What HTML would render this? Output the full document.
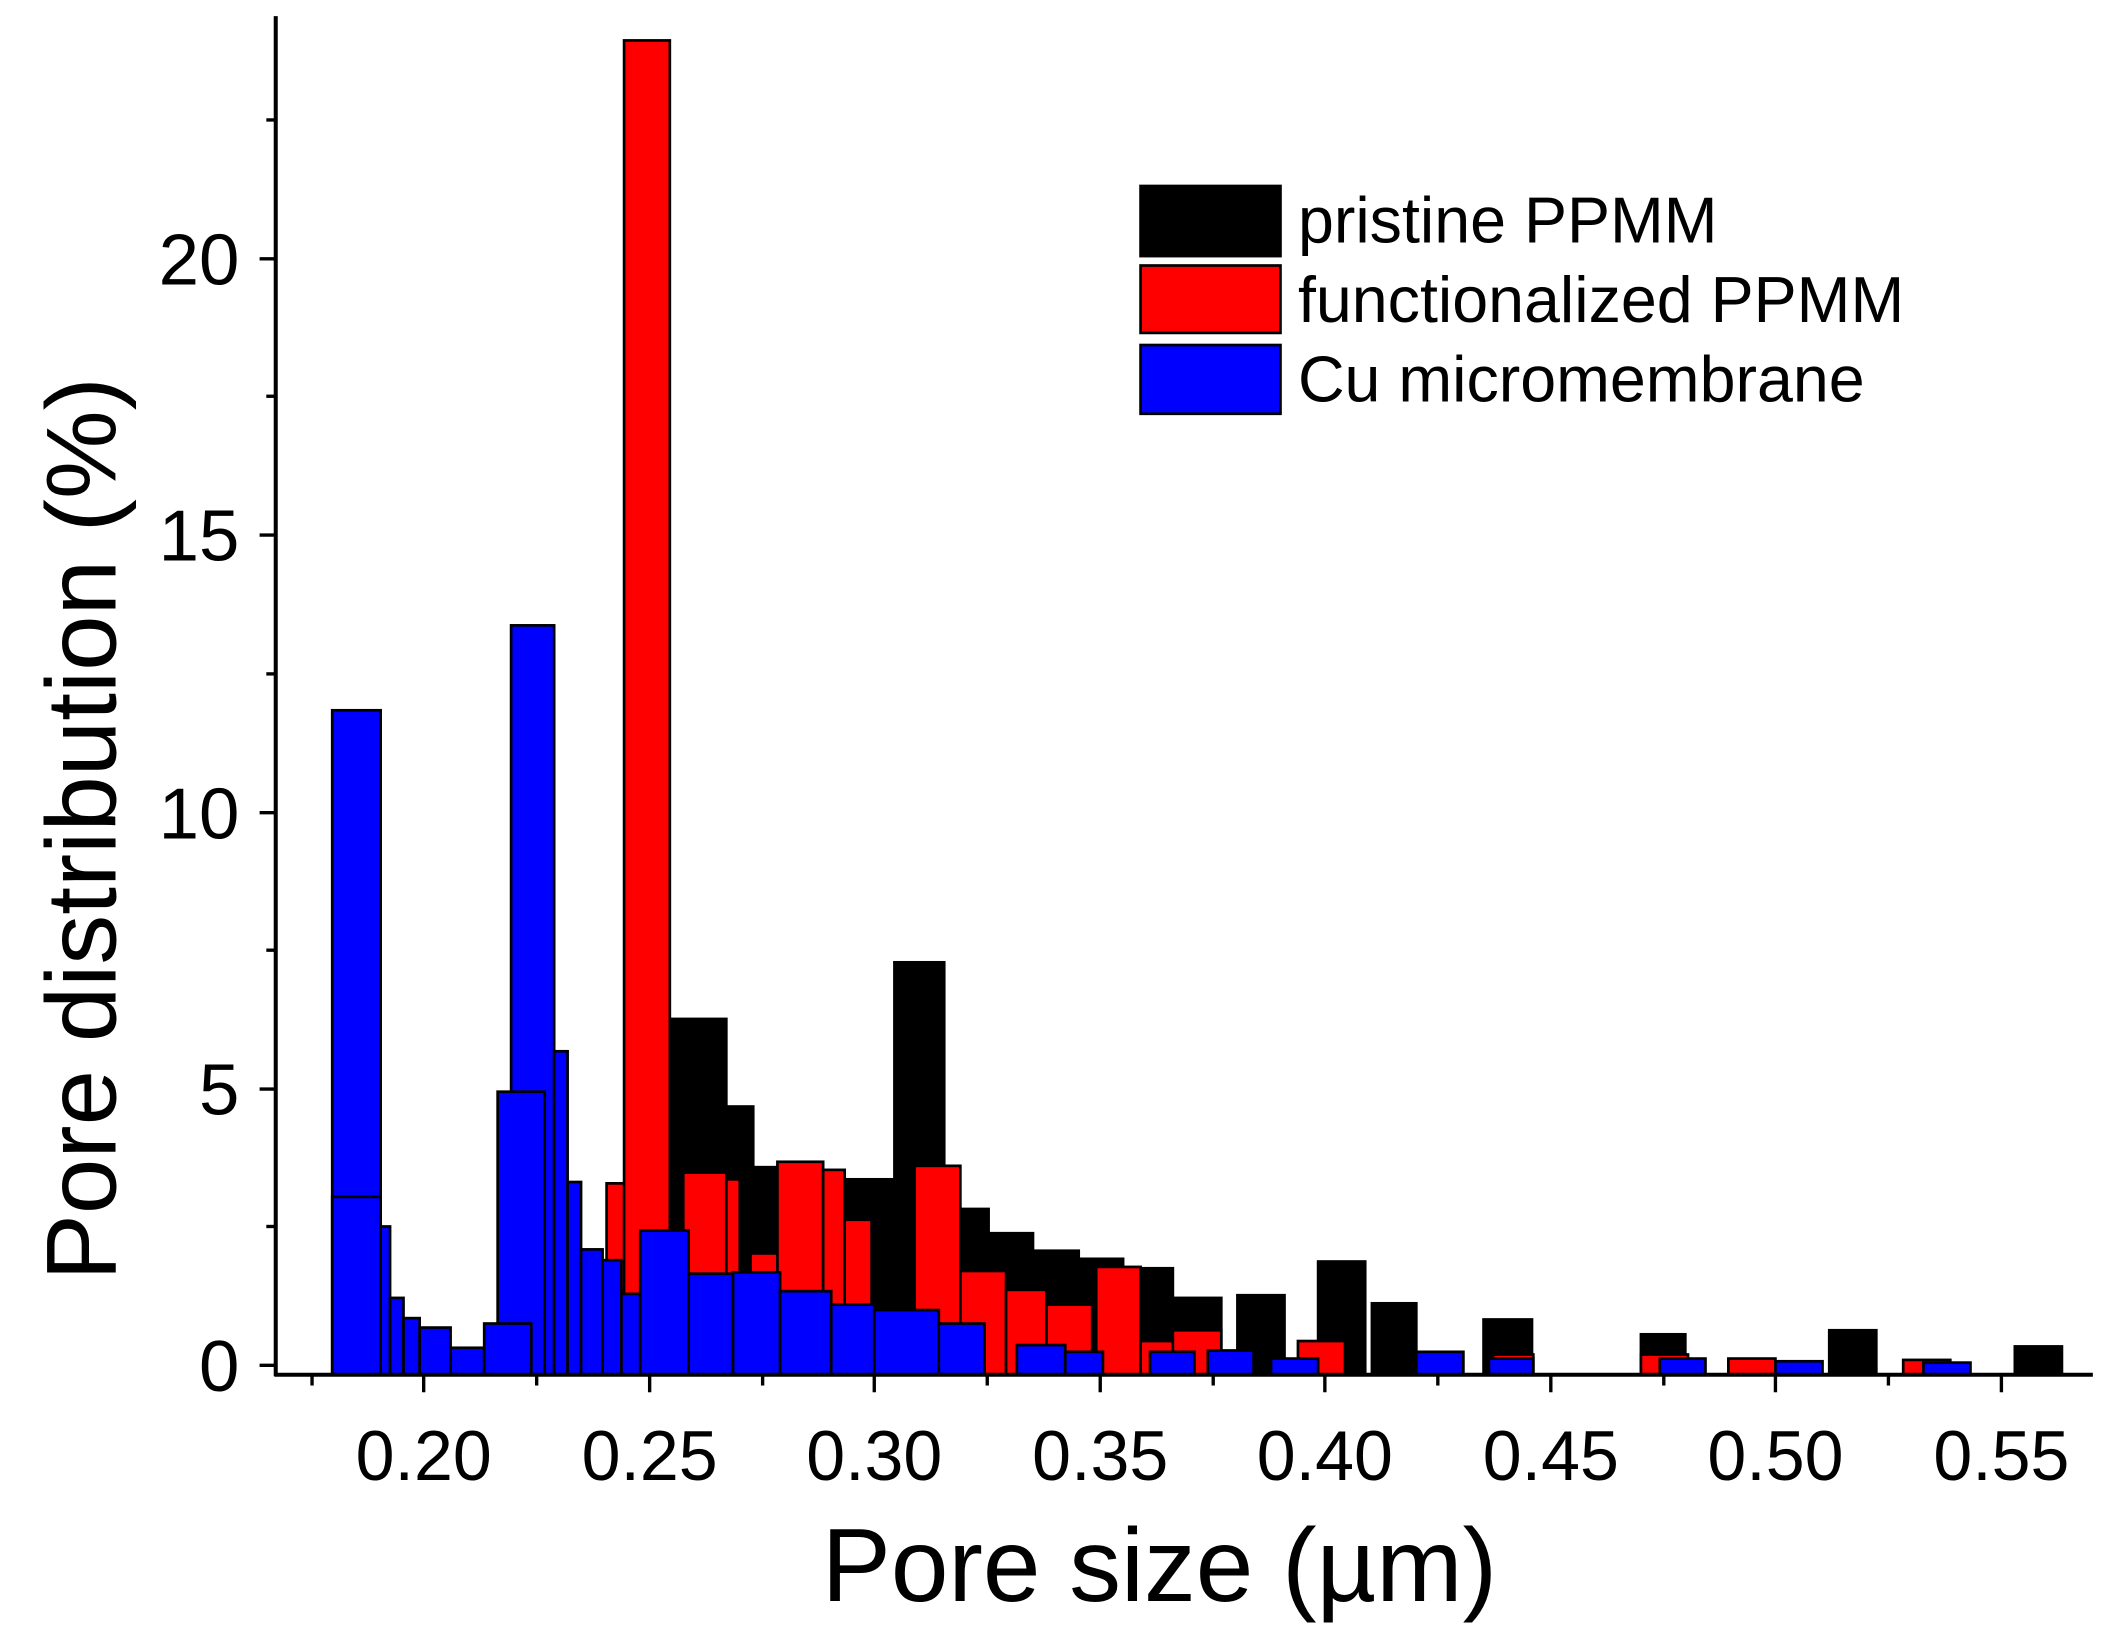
<!DOCTYPE html>
<html><head><style>html,body{margin:0;padding:0;background:#fff}svg{display:block}</style></head>
<body>
<svg width="2109" height="1647" viewBox="0 0 1568 1222" preserveAspectRatio="none" xmlns="http://www.w3.org/2000/svg" font-family="Liberation Sans, sans-serif">
<rect width="1568" height="1222" fill="#fff"/>
<g stroke="#000" stroke-width="2">
<g fill="#000">
<rect x="585" y="870" width="43" height="150"/>
<rect x="498" y="756" width="42" height="264"/>
<rect x="540" y="821" width="20" height="199"/>
<rect x="560" y="866" width="25" height="154"/>
<rect x="628" y="875" width="37" height="145"/>
<rect x="665" y="714" width="37" height="306"/>
<rect x="702" y="897" width="33" height="123"/>
<rect x="735" y="915" width="33" height="105"/>
<rect x="768" y="928" width="34" height="92"/>
<rect x="802" y="934" width="33" height="86"/>
<rect x="835" y="941" width="37" height="79"/>
<rect x="872" y="963" width="36" height="57"/>
<rect x="920" y="961" width="35" height="59"/>
<rect x="980" y="936" width="35" height="84"/>
<rect x="1020" y="967" width="33" height="53"/>
<rect x="1103" y="979" width="36" height="41"/>
<rect x="1220" y="990" width="33" height="30"/>
<rect x="1360" y="987" width="35" height="33"/>
<rect x="1498" y="999" width="35" height="21"/>
</g>
<g fill="#f00">
<rect x="451" y="878" width="34" height="142"/>
<rect x="464" y="30" width="34" height="990"/>
<rect x="508" y="870" width="32" height="150"/>
<rect x="540" y="875" width="10" height="145"/>
<rect x="558" y="930" width="20" height="90"/>
<rect x="578" y="862" width="34" height="158"/>
<rect x="612" y="868" width="16" height="152"/>
<rect x="628" y="905" width="20" height="115"/>
<rect x="680" y="865" width="34" height="155"/>
<rect x="714" y="943" width="34" height="77"/>
<rect x="748" y="957" width="30" height="63"/>
<rect x="778" y="968" width="34" height="52"/>
<rect x="815" y="940" width="33" height="80"/>
<rect x="848" y="995" width="24" height="25"/>
<rect x="872" y="987" width="36" height="33"/>
<rect x="965" y="995" width="35" height="25"/>
<rect x="1110" y="1005" width="30" height="15"/>
<rect x="1220" y="1005" width="35" height="15"/>
<rect x="1285" y="1008" width="35" height="12"/>
<rect x="1415" y="1009" width="35" height="11"/>
</g>
<g fill="#00f">
<rect x="247" y="527" width="36" height="493"/>
<rect x="247" y="888" width="36" height="132"/>
<rect x="283" y="910" width="7" height="110"/>
<rect x="290" y="963" width="10" height="57"/>
<rect x="300" y="978" width="12" height="42"/>
<rect x="312" y="985" width="23" height="35"/>
<rect x="335" y="1000" width="25" height="20"/>
<rect x="380" y="464" width="32" height="556"/>
<rect x="370" y="810" width="35" height="210"/>
<rect x="360" y="982" width="35" height="38"/>
<rect x="412" y="780" width="10" height="240"/>
<rect x="422" y="877" width="10" height="143"/>
<rect x="432" y="927" width="16" height="93"/>
<rect x="448" y="935" width="14" height="85"/>
<rect x="462" y="960" width="14" height="60"/>
<rect x="476" y="913" width="36" height="107"/>
<rect x="512" y="945" width="33" height="75"/>
<rect x="545" y="944" width="35" height="76"/>
<rect x="580" y="958" width="38" height="62"/>
<rect x="618" y="968" width="32" height="52"/>
<rect x="650" y="972" width="48" height="48"/>
<rect x="698" y="982" width="34" height="38"/>
<rect x="756" y="998" width="36" height="22"/>
<rect x="792" y="1003" width="28" height="17"/>
<rect x="855" y="1003" width="33" height="17"/>
<rect x="898" y="1002" width="34" height="18"/>
<rect x="945" y="1008" width="35" height="12"/>
<rect x="1053" y="1003" width="35" height="17"/>
<rect x="1107" y="1008" width="33" height="12"/>
<rect x="1234" y="1008" width="34" height="12"/>
<rect x="1320" y="1010" width="35" height="10"/>
<rect x="1430" y="1011" width="35" height="9"/>
</g>
<line x1="205" y1="12" x2="205" y2="1021" stroke-width="3"/>
<line x1="204" y1="1020" x2="1556" y2="1020" stroke-width="3"/>
<g stroke-width="2.5">
<line x1="193" y1="1013" x2="205" y2="1013"/><line x1="193" y1="808" x2="205" y2="808"/>
<line x1="193" y1="603" x2="205" y2="603"/><line x1="193" y1="397" x2="205" y2="397"/>
<line x1="193" y1="192" x2="205" y2="192"/>
<line x1="198" y1="910" x2="205" y2="910"/><line x1="198" y1="705" x2="205" y2="705"/>
<line x1="198" y1="500" x2="205" y2="500"/><line x1="198" y1="294" x2="205" y2="294"/>
<line x1="198" y1="89" x2="205" y2="89"/>
<line x1="315" y1="1020" x2="315" y2="1033"/><line x1="483" y1="1020" x2="483" y2="1033"/>
<line x1="650" y1="1020" x2="650" y2="1033"/><line x1="818" y1="1020" x2="818" y2="1033"/>
<line x1="985" y1="1020" x2="985" y2="1033"/><line x1="1153" y1="1020" x2="1153" y2="1033"/>
<line x1="1320" y1="1020" x2="1320" y2="1033"/><line x1="1488" y1="1020" x2="1488" y2="1033"/>
<line x1="232" y1="1020" x2="232" y2="1028"/><line x1="399" y1="1020" x2="399" y2="1028"/>
<line x1="567" y1="1020" x2="567" y2="1028"/><line x1="734" y1="1020" x2="734" y2="1028"/>
<line x1="902" y1="1020" x2="902" y2="1028"/><line x1="1069" y1="1020" x2="1069" y2="1028"/>
<line x1="1237" y1="1020" x2="1237" y2="1028"/><line x1="1404" y1="1020" x2="1404" y2="1028"/>
</g>
<rect x="848" y="138" width="104" height="52" fill="#000"/>
<rect x="848" y="197" width="104" height="50" fill="#f00"/>
<rect x="848" y="256" width="104" height="51" fill="#00f"/>
</g>
<g font-size="48" fill="#000">
<text x="965" y="180">pristine PPMM</text>
<text x="965" y="239">functionalized PPMM</text>
<text x="965" y="298">Cu micromembrane</text>
</g>
<g font-size="54" fill="#000" text-anchor="end">
<text x="178" y="1032">0</text><text x="178" y="827">5</text>
<text x="178" y="622">10</text><text x="178" y="416">15</text><text x="178" y="211">20</text>
</g>
<g font-size="52" fill="#000" text-anchor="middle">
<text x="315" y="1098">0.20</text><text x="483" y="1098">0.25</text>
<text x="650" y="1098">0.30</text><text x="818" y="1098">0.35</text>
<text x="985" y="1098">0.40</text><text x="1153" y="1098">0.45</text>
<text x="1320" y="1098">0.50</text><text x="1488" y="1098">0.55</text>
</g>
<text x="862" y="1188" font-size="77" text-anchor="middle">Pore size (µm)</text>
<text transform="translate(86,615) rotate(-90)" font-size="74" text-anchor="middle">Pore distribution (%)</text>
</svg>
</body></html>
